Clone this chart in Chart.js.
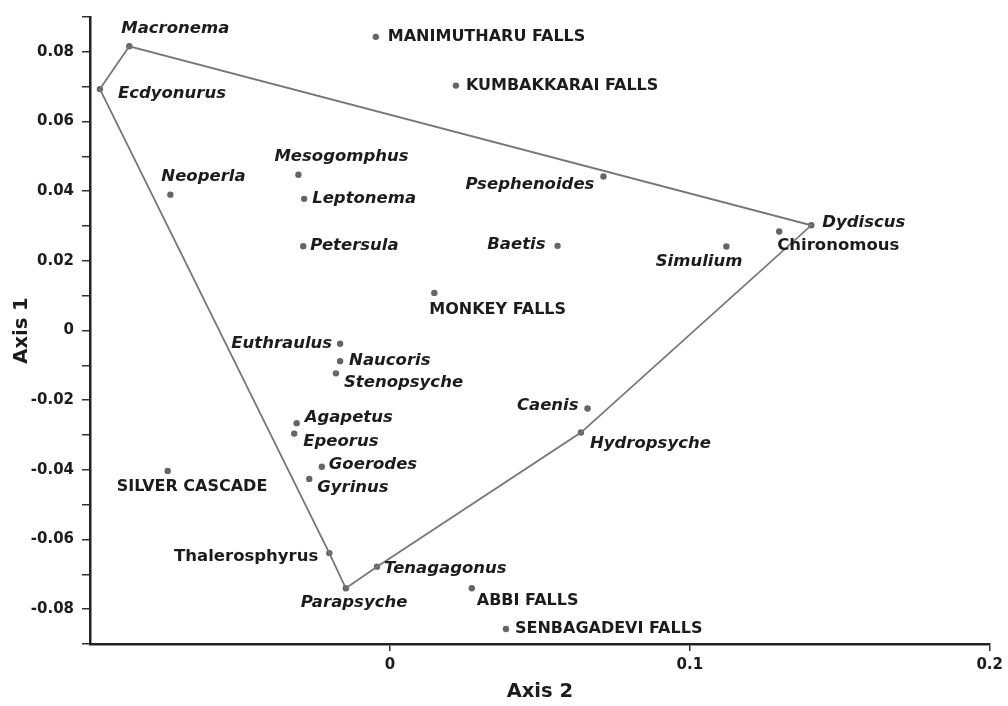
<!DOCTYPE html>
<html><head><meta charset="utf-8">
<script src="https://cdn.jsdelivr.net/npm/chart.js@4/dist/chart.umd.min.js"></script>
<style>html,body{margin:0;padding:0;background:#fff}#wrap{width:1008px;height:706px}</style>
</head><body><div id="wrap"><canvas id="c" width="1008" height="706"></canvas></div>
<script>
// ---- data ----
const names = ['Macronema','Ecdyonurus','Neoperla','Mesogomphus','Leptonema','Petersula',
  'MANIMUTHARU FALLS','KUMBAKKARAI FALLS','Psephenoides','Dydiscus','Chironomous','Simulium',
  'Baetis','MONKEY FALLS','Euthraulus','Naucoris','Stenopsyche','Caenis','Hydropsyche',
  'Agapetus','Epeorus','Goerodes','Gyrinus','SILVER CASCADE','Thalerosphyrus','Parapsyche',
  'Tenagagonus','ABBI FALLS','SENBAGADEVI FALLS'];
const axis2Values = [-0.0869,-0.0967,-0.0732,-0.0305,-0.0286,-0.0289,
  -0.0047,0.0220,0.0712,0.1405,0.1298,0.1122,
  0.0559,0.0148,-0.0166,-0.0166,-0.0180,0.0659,0.0637,
  -0.0311,-0.0319,-0.0227,-0.0269,-0.0741,-0.0202,-0.0147,
  -0.0043,0.0273,0.0387];
const axis1Values = [0.0816,0.0693,0.0390,0.0447,0.0378,0.0242,
  0.0843,0.0703,0.0442,0.0302,0.0284,0.0241,
  0.0243,0.0108,-0.0038,-0.0088,-0.0123,-0.0224,-0.0293,
  -0.0266,-0.0296,-0.0391,-0.0426,-0.0403,-0.0639,-0.0740,
  -0.0678,-0.0740,-0.0857];
const hullOrder = ['Ecdyonurus','Macronema','Dydiscus','Hydropsyche','Tenagagonus','Parapsyche','Thalerosphyrus','Ecdyonurus'];
const sites = ['MANIMUTHARU FALLS','KUMBAKKARAI FALLS','MONKEY FALLS','SILVER CASCADE','ABBI FALLS','SENBAGADEVI FALLS'];
const yTickValues = [-0.09,-0.08,-0.07,-0.06,-0.05,-0.04,-0.03,-0.02,-0.01,0,0.01,0.02,0.03,0.04,0.05,0.06,0.07,0.08,0.09];
const yTickLabels = ['','-0.08','','-0.06','','-0.04','','-0.02','','0','','0.02','','0.04','','0.06','','0.08',''];
const xTickValues = [0,0.1,0.2];
const xTickLabels = ['0','0.1','0.2'];
const xTitle = 'Axis 2', yTitle = 'Axis 1';

// ---- label layout (relative to each point) ----
const labelPlace = {
  'Macronema':['left',-8,-18],'Ecdyonurus':['left',18,5],'Neoperla':['left',-9,-18],
  'Mesogomphus':['left',-24,-18],'Leptonema':['left',8,0],'Petersula':['left',7,0],
  'MANIMUTHARU FALLS':['left',12,0],'KUMBAKKARAI FALLS':['left',10,0],'Psephenoides':['right',-9,8],
  'Dydiscus':['left',11,-3],'Chironomous':['left',-2,14],'Simulium':['right',16,15],
  'Baetis':['right',-12,-1],'MONKEY FALLS':['left',-5,17],'Euthraulus':['right',-8,0],
  'Naucoris':['left',9,0],'Stenopsyche':['left',8,9],'Caenis':['right',-9,-3],
  'Hydropsyche':['left',9,11],'Agapetus':['left',8,-5],'Epeorus':['left',9,8],
  'Goerodes':['left',7,-2],'Gyrinus':['left',8,9],'SILVER CASCADE':['left',-51,16],
  'Thalerosphyrus':['right',-11,4],'Parapsyche':['left',-45,14],'Tenagagonus':['left',7,2],
  'ABBI FALLS':['left',5,13],'SENBAGADEVI FALLS':['left',9,0]
};
const uprightSpecies = ['Chironomous','Thalerosphyrus'];
const FAMILY = '"DejaVu Sans", sans-serif';
const SITE_FONT = 'bold 16px ' + FAMILY;
const SPECIES_FONT = 'oblique bold 16.5px ' + FAMILY;
const UPRIGHT_FONT = 'bold 16.5px ' + FAMILY;

const points = names.map((n,i)=>({x:axis2Values[i], y:axis1Values[i]}));
const hull = hullOrder.map(n=>{const i=names.indexOf(n);return {x:axis2Values[i], y:axis1Values[i]};});

const labelPlugin = {
  id:'pointLabels',
  afterDatasetsDraw(chart){
    const ctx = chart.ctx;
    const meta = chart.getDatasetMeta(1);
    ctx.save();
    ctx.fillStyle = '#1c1c1c';
    ctx.textBaseline = 'middle';
    meta.data.forEach((el,i)=>{
      const n = names[i];
      const p = labelPlace[n];
      ctx.font = sites.indexOf(n) >= 0 ? SITE_FONT : (uprightSpecies.indexOf(n) >= 0 ? UPRIGHT_FONT : SPECIES_FONT);
      ctx.textAlign = p[0];
      ctx.fillText(n, el.x + p[1], el.y + p[2]);
    });
    ctx.restore();
  }
};

new Chart(document.getElementById('c'), {
  type:'scatter',
  data:{datasets:[
    {data:hull, showLine:true, fill:false, borderColor:'#767676', borderWidth:1.8, pointRadius:0, tension:0},
    {data:points, pointRadius:3.2, pointBackgroundColor:'#656565', pointBorderWidth:0, showLine:false}
  ]},
  options:{
    responsive:false, animation:false, devicePixelRatio:1,
    layout:{padding:{top:12,right:17,left:0,bottom:0}},
    plugins:{legend:{display:false}, tooltip:{enabled:false}},
    scales:{
      x:{type:'linear', min:-0.1, max:0.2,
        afterBuildTicks(s){ s.ticks = xTickValues.map(v=>({value:v})); },
        afterFit(s){ s.height = 62; },
        ticks:{callback:(v,i)=>xTickLabels[i], color:'#1c1c1c', font:{family:FAMILY, size:15, weight:'bold'}, padding:5, maxRotation:0, autoSkip:false},
        grid:{display:true, drawOnChartArea:false, drawTicks:true, tickLength:7, color:'#333', lineWidth:1.5},
        border:{display:true, color:'#222', width:2.5},
        title:{display:true, text:xTitle, color:'#1c1c1c', font:{family:FAMILY, size:19.5, weight:'bold'}, padding:{top:0,bottom:2}}
      },
      y:{type:'linear', min:-0.09, max:0.09,
        afterBuildTicks(s){ s.ticks = yTickValues.map(v=>({value:v})); },
        afterFit(s){ s.width = 90; },
        ticks:{callback:(v,i)=>yTickLabels[i], color:'#1c1c1c', font:{family:FAMILY, size:15, weight:'bold'}, padding:8, autoSkip:false},
        grid:{display:true, drawOnChartArea:false, drawTicks:true, tickLength:8, color:'#333', lineWidth:1.5},
        border:{display:true, color:'#222', width:2.5},
        title:{display:true, text:yTitle, color:'#1c1c1c', font:{family:FAMILY, size:19.5, weight:'bold'}, padding:{top:10,bottom:0}}
      }
    }
  },
  plugins:[labelPlugin]
});
</script></body></html>
